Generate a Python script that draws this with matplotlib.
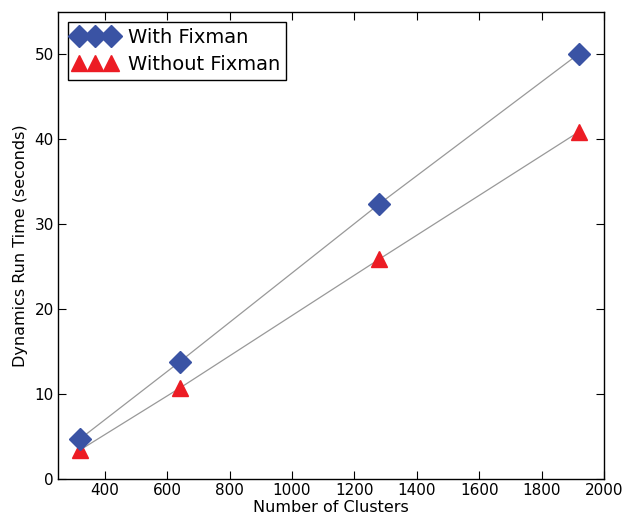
import matplotlib
matplotlib.use('Agg')
import matplotlib.pyplot as plt

# cluster counts and run times (seconds)
clusters = [320, 640, 1280, 1920]
with_fixman = [4.7, 13.8, 32.4, 50.1]
without_fixman = [3.4, 10.7, 25.9, 40.9]

plt.rcParams['font.family'] = 'DejaVu Sans'
plt.rcParams['xtick.direction'] = 'in'
plt.rcParams['ytick.direction'] = 'in'

fig = plt.figure(figsize=(6.24, 5.16), dpi=100)
ax = fig.add_axes([58 / 624, 1 - 479 / 516, 546 / 624, 467 / 516])

ax.plot(clusters, with_fixman, color='#999999', lw=0.9, zorder=1)
ax.plot(clusters, without_fixman, color='#999999', lw=0.9, zorder=1)
ax.plot(clusters, with_fixman, 'D', color='#3a53a4', mec='#3a53a4', ms=11,
        label='With Fixman', zorder=3)
ax.plot(clusters, without_fixman, '^', color='#ec1c24', mec='#ec1c24', ms=11,
        label='Without Fixman', zorder=2)

ax.set_xlim(250, 2000)
ax.set_ylim(0, 55)
ax.set_xticks(range(400, 2001, 200))
ax.set_yticks(range(0, 51, 10))
ax.tick_params(top=True, right=True, labelsize=11, length=6, width=0.8, pad=3)
for s in ax.spines.values():
    s.set_linewidth(1.0)

ax.set_xlabel('Number of Clusters', fontsize=11.5, labelpad=1)
ax.set_ylabel('Dynamics Run Time (seconds)', fontsize=11.5, labelpad=5)

leg = ax.legend(loc='upper left', numpoints=3, fontsize=14, fancybox=False,
                framealpha=1, edgecolor='black', borderaxespad=0.5,
                handletextpad=0.6, handlelength=2.2, borderpad=0.3,
                labelspacing=0.45)
leg.get_frame().set_linewidth(1.0)

fig.savefig('out.png', dpi=100)
